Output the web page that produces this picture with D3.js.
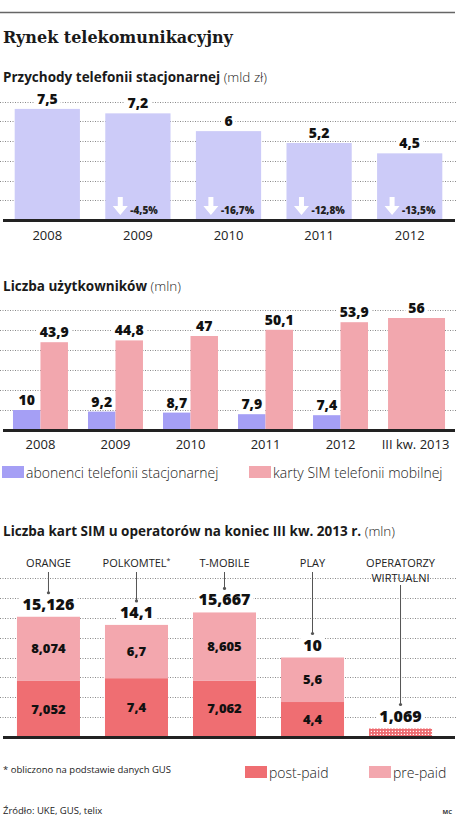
<!DOCTYPE html>
<html>
<head>
<meta charset="utf-8">
<script src="https://cdnjs.cloudflare.com/ajax/libs/d3/7.8.5/d3.min.js"></script>
<style>
  body { margin: 0; background: #fff; }
  svg { display: block; font-family: "Open Sans", sans-serif; }
</style>
</head>
<body>
<div id="chart"></div>
<script>
// data
var revYears = ['2008', '2009', '2010', '2011', '2012'];
var revenue = [7.5, 7.2, 6, 5.2, 4.5];
var revChange = [null, -4.5, -16.7, -12.8, -13.5];

var userCats = ['2008', '2009', '2010', '2011', '2012', 'III kw. 2013'];
var fixedUsers = [10, 9.2, 8.7, 7.9, 7.4, null];
var simCards = [43.9, 44.8, 47, 50.1, 53.9, 56];

var operators = ['ORANGE', 'POLKOMTEL', 'T-MOBILE', 'PLAY', 'OPERATORZY WIRTUALNI'];
var postPaid = [7.052, 7.4, 7.062, 4.4, null];
var prePaid = [8.074, 6.7, 8.605, 5.6, null];
var simTotal = [15.126, 14.1, 15.667, 10, 1.069];

var W = 456, H = 816;
var fmt = function(v) { return String(v).replace('.', ','); };

var svg = d3.select('#chart').append('svg')
    .attr('width', W).attr('height', H);

var defs = svg.append('defs');
var pat = defs.append('pattern')
    .attr('id', 'dots')
    .attr('width', 3).attr('height', 3)
    .attr('patternUnits', 'userSpaceOnUse');
pat.append('rect').attr('width', 3).attr('height', 3).attr('fill', '#ee6b70');
pat.append('rect').attr('x', 1.8).attr('y', 1.8).attr('width', 1.2).attr('height', 1.2).attr('fill', '#fff');

// header
svg.append('line')
    .attr('x1', 0).attr('x2', 455).attr('y1', 12.5).attr('y2', 12.5)
    .attr('stroke', '#666').attr('stroke-width', 1.5);

svg.append('text')
    .attr('x', 3).attr('y', 43)
    .style('font-family', '"DejaVu Serif", serif')
    .style('font-weight', 'bold')
    .style('font-size', '16px')
    .attr('fill', '#1a1a1a')
    .text('Rynek telekomunikacyjny');

function subtitle(y, bold, rest) {
    var t = svg.append('text').attr('x', 3).attr('y', y)
        .style('font-size', '13.5px').attr('fill', '#1a1a1a');
    t.append('tspan').style('font-weight', 'bold').text(bold);
    t.append('tspan').style('font-weight', '300').text(' ' + rest);
}

function grid(g, yScale, values) {
    g.selectAll('.grid')
        .data(values)
        .enter()
        .append('line')
        .attr('class', 'grid')
        .attr('x1', 0).attr('x2', W)
        .attr('y1', function(d) { return Math.round(yScale(d)) + 0.5; })
        .attr('y2', function(d) { return Math.round(yScale(d)) + 0.5; })
        .attr('stroke', '#8a8a8a')
        .attr('stroke-width', 1)
        .attr('stroke-dasharray', '1,1.5');
}

function baseline(g, y) {
    g.append('line')
        .attr('x1', 3).attr('x2', 455)
        .attr('y1', y).attr('y2', y)
        .attr('stroke', '#222').attr('stroke-width', 3);
}

// label with white box behind it so dotted lines break
function label(g, x, y, txt, size) {
    var t = g.append('text')
        .attr('x', x).attr('y', y)
        .attr('text-anchor', 'middle')
        .style('font-weight', '800')
        .style('font-size', size + 'px')
        .attr('fill', '#111')
        .text(txt);
    var b = t.node().getBBox();
    g.insert('rect', function() { return t.node(); })
        .attr('x', b.x - 3).attr('y', b.y + 2)
        .attr('width', b.width + 6).attr('height', b.height - 4)
        .attr('fill', '#fff');
    return t;
}

// ---------- chart 1: revenue ----------
subtitle(82, 'Przychody telefonii stacjonarnej', '(mld zł)');

var g1 = svg.append('g');
var x1 = d3.scaleBand().domain(revYears).range([2, 455]).paddingInner(0.28).paddingOuter(0.14);
var y1 = d3.scaleLinear().domain([0, 8]).range([220, 101.5]);

grid(g1, y1, d3.range(1, 7).map(function(i) { return i * 8 / 6; }));

g1.selectAll('.bar')
    .data(revenue)
    .enter()
    .append('rect')
    .attr('x', function(d, i) { return x1(revYears[i]); })
    .attr('y', function(d) { return y1(d); })
    .attr('width', x1.bandwidth())
    .attr('height', function(d) { return y1(0) - y1(d); })
    .attr('fill', '#cccbf8');

revenue.forEach(function(d, i) {
    label(g1, x1(revYears[i]) + x1.bandwidth() / 2, y1(d) - 5, fmt(d), 14);
});

revChange.forEach(function(d, i) {
    if (d === null) return;
    var bx = x1(revYears[i]);
    var ax = bx + 15, ay = 197;
    g1.append('path')
        .attr('d', 'M' + (ax - 2.5) + ',' + ay + 'h5v9h5l-7.5,9l-7.5,-9h5z')
        .attr('fill', '#fff');
    g1.append('text')
        .attr('x', bx + 25).attr('y', 214)
        .style('font-weight', '800')
        .style('font-size', '10px')
        .attr('fill', '#222')
        .text(fmt(d) + '%');
});

baseline(g1, 220.5);

g1.selectAll('.year')
    .data(revYears)
    .enter()
    .append('text')
    .attr('x', function(d) { return x1(d) + x1.bandwidth() / 2; })
    .attr('y', 240)
    .attr('text-anchor', 'middle')
    .style('font-size', '13px')
    .attr('fill', '#222')
    .text(function(d) { return d; });

// ---------- chart 2: users ----------
subtitle(291, 'Liczba użytkowników', '(mln)');

var g2 = svg.append('g');
var x2 = d3.scaleBand().domain(userCats).range([3, 453]).paddingInner(0.267).paddingOuter(0.133);
var x2in = d3.scaleBand().domain(['fixed', 'sim']).range([0, x2.bandwidth()]);
var y2 = d3.scaleLinear().domain([0, 60]).range([430, 310]);

grid(g2, y2, [10, 20, 30, 40, 50, 60]);

userCats.forEach(function(c, i) {
    var gx = x2(c);
    if (fixedUsers[i] !== null) {
        g2.append('rect')
            .attr('x', gx + x2in('fixed'))
            .attr('y', y2(fixedUsers[i]))
            .attr('width', x2in.bandwidth())
            .attr('height', y2(0) - y2(fixedUsers[i]))
            .attr('fill', '#a59ff5');
        g2.append('rect')
            .attr('x', gx + x2in('sim'))
            .attr('y', y2(simCards[i]))
            .attr('width', x2in.bandwidth())
            .attr('height', y2(0) - y2(simCards[i]))
            .attr('fill', '#f2a7ae');
    } else {
        g2.append('rect')
            .attr('x', gx)
            .attr('y', y2(simCards[i]))
            .attr('width', x2.bandwidth() + 2)
            .attr('height', y2(0) - y2(simCards[i]))
            .attr('fill', '#f2a7ae');
    }
});

userCats.forEach(function(c, i) {
    var gx = x2(c);
    if (fixedUsers[i] !== null) {
        label(g2, gx + x2in('fixed') + x2in.bandwidth() / 2, y2(fixedUsers[i]) - 5, fmt(fixedUsers[i]), 14);
        label(g2, gx + x2in('sim') + x2in.bandwidth() / 2, y2(simCards[i]) - 5, fmt(simCards[i]), 14);
    } else {
        label(g2, gx + x2.bandwidth() / 2 + 1, y2(simCards[i]) - 5, fmt(simCards[i]), 14);
    }
});

baseline(g2, 430.5);

g2.selectAll('.year')
    .data(userCats)
    .enter()
    .append('text')
    .attr('x', function(d) { return x2(d) + x2.bandwidth() / 2; })
    .attr('y', 449)
    .attr('text-anchor', 'middle')
    .style('font-size', '13px')
    .attr('fill', '#222')
    .text(function(d) { return d; });

function legendItem(x, y, color, txt) {
    svg.append('rect').attr('x', x).attr('y', y).attr('width', 22).attr('height', 12).attr('fill', color);
    svg.append('text').attr('x', x + 24).attr('y', y + 11.5)
        .style('font-size', '14px').style('font-weight', '300')
        .attr('fill', '#222').text(txt);
}
legendItem(2, 466, '#a59ff5', 'abonenci telefonii stacjonarnej');
legendItem(249, 466, '#f2a7ae', 'karty SIM telefonii mobilnej');

// ---------- chart 3: SIM cards per operator ----------
subtitle(536, 'Liczba kart SIM u operatorów na koniec III kw. 2013 r.', '(mln)');

var g3 = svg.append('g');
var x3 = d3.scaleBand().domain(operators).range([2, 447]).paddingInner(0.284).paddingOuter(0.17);
var y3 = d3.scaleLinear().domain([0, 20]).range([737, 578]);

grid(g3, y3, d3.range(1, 9).map(function(i) { return i * 2.5; }));

operators.forEach(function(op, i) {
    var bx = x3(op), bw = x3.bandwidth(), cx = bx + bw / 2;
    var topY = y3(simTotal[i]);
    if (postPaid[i] !== null) {
        g3.append('rect')
            .attr('x', bx).attr('y', y3(postPaid[i]))
            .attr('width', bw).attr('height', y3(0) - y3(postPaid[i]))
            .attr('fill', '#ef6e72');
        g3.append('rect')
            .attr('x', bx).attr('y', y3(postPaid[i] + prePaid[i]))
            .attr('width', bw).attr('height', y3(postPaid[i]) - y3(postPaid[i] + prePaid[i]))
            .attr('fill', '#f3a7ae');
        g3.append('text')
            .attr('x', cx).attr('y', (y3(postPaid[i]) + y3(0)) / 2).attr('dy', '0.35em')
            .attr('text-anchor', 'middle')
            .style('font-weight', '800').style('font-size', '13px')
            .attr('fill', '#111').text(fmt(postPaid[i]));
        g3.append('text')
            .attr('x', cx).attr('y', (y3(postPaid[i]) + y3(postPaid[i] + prePaid[i])) / 2).attr('dy', '0.35em')
            .attr('text-anchor', 'middle')
            .style('font-weight', '800').style('font-size', '13px')
            .attr('fill', '#111').text(fmt(prePaid[i]));
    } else {
        g3.append('rect')
            .attr('x', bx).attr('y', topY)
            .attr('width', bw).attr('height', y3(0) - topY)
            .attr('fill', 'url(#dots)');
    }

    var ly = topY - 7;
    label(g3, cx, ly, fmt(simTotal[i]), 16);

    // operator name, one text per line
    var words = op.split(' ');
    words.forEach(function(w, k) {
        var nt = g3.append('text')
            .attr('x', cx).attr('y', 567 + k * 15)
            .attr('text-anchor', 'middle')
            .style('font-size', '11px')
            .attr('fill', '#222')
            .text(w);
        if (w === 'POLKOMTEL') {
            nt.append('tspan').attr('dy', -4).style('font-size', '7px').text('*');
        }
    });
    var startY = words.length > 1 ? 585 : 572;
    var endY = ly - 17;
    g3.append('line')
        .attr('x1', cx).attr('x2', cx)
        .attr('y1', startY).attr('y2', endY)
        .attr('stroke', '#555').attr('stroke-width', 1);
    g3.append('circle')
        .attr('cx', cx).attr('cy', endY).attr('r', 1.6)
        .attr('fill', '#555');
});

baseline(g3, 737.5);

svg.append('text')
    .attr('x', 3).attr('y', 773)
    .style('font-size', '9.5px')
    .attr('fill', '#222')
    .text('* obliczono na podstawie danych GUS');

legendItem(245, 766, '#ef6e72', 'post-paid');
legendItem(369, 766, '#f3a7ae', 'pre-paid');

svg.append('text')
    .attr('x', 3).attr('y', 814)
    .style('font-size', '9.5px')
    .attr('fill', '#222')
    .text('Źródło: UKE, GUS, telix');

svg.append('text')
    .attr('x', 452).attr('y', 814)
    .attr('text-anchor', 'end')
    .style('font-size', '6px')
    .style('font-weight', 'bold')
    .attr('fill', '#333')
    .text('MC');
</script>
</body>
</html>
